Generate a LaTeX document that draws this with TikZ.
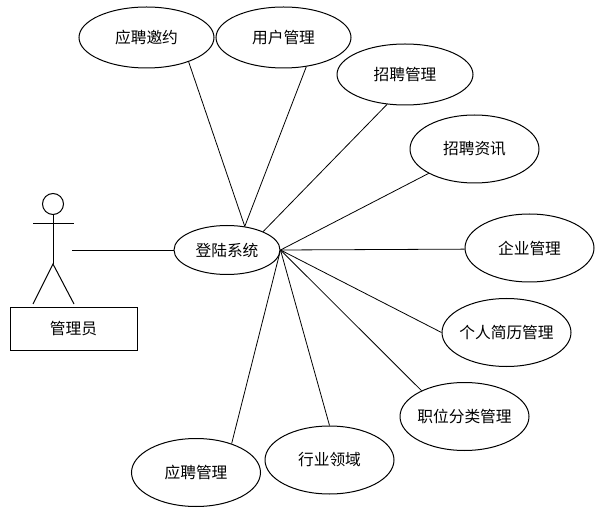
\documentclass[tikz,border=0pt]{standalone}
\usepackage{fontspec}
\setmainfont{Noto Sans CJK SC}
\usetikzlibrary{shapes.geometric}
\tikzset{
usecase/.style={draw,ellipse,line width=0.75pt,fill=white,font=\fontsize{11.8pt}{13pt}\selectfont,inner sep=0pt,minimum width=96.75pt,minimum height=51pt},
longcase/.style={usecase,inner xsep=-3pt},
conn/.style={line width=0.6pt},
figure/.style={line width=0.75pt}}
\begin{document}
\begin{tikzpicture}[x=0.75pt,y=-0.75pt]
\useasboundingbox (0,0) rectangle (614,520);
\fill[white] (0,0) rectangle (614,520);
\node[usecase,minimum width=79.5pt,minimum height=36.75pt] (login) at (227,250) {登陆系统};
\node[usecase,minimum width=101.25pt,minimum height=45.75pt] (invite) at (146.5,37.5) {应聘邀约};
\node[usecase,minimum width=101.25pt,minimum height=45.75pt] (user) at (283.5,37.5) {用户管理};
\node[usecase,minimum width=102pt,minimum height=45.75pt] (recruit) at (405,74.5) {招聘管理};
\node[usecase] (news) at (474.5,149) {招聘资讯};
\node[usecase] (firm) at (529.5,248) {企业管理};
\node[longcase] (resume) at (506.5,332.5) {个人简历管理};
\node[longcase] (category) at (464.5,416.5) {职位分类管理};
\node[usecase] (industry) at (329.5,460) {行业领域};
\node[usecase] (apply) at (196,472.5) {应聘管理};
\node[draw,figure,minimum width=95.25pt,minimum height=31.5pt,inner sep=0pt,font=\fontsize{11.8pt}{13pt}\selectfont] (role) at (73.5,329) {管理员};
\node[draw,circle,figure,minimum size=15.75pt,inner sep=0pt] (head) at (53,204) {};
\coordinate (crotch) at (53,264);
\coordinate (armL) at (33,223.5);
\coordinate (armR) at (74,223.5);
\coordinate (footL) at (33,304);
\coordinate (footR) at (74,304);
\coordinate (hand) at (72,250);
\draw[figure] (head) -- (crotch);
\draw[figure] (armL) -- (armR);
\draw[figure] (footL) -- (crotch) -- (footR);
\draw[conn] (hand) -- (login);
\draw[conn] (invite.-30) -- (login.53.5);
\draw[conn] (user.-52.7) -- (login.53.5);
\draw[conn] (recruit.239.5) -- (login.27);
\draw[conn] (news.208.8) -- (login.east);
\draw[conn] (firm.181) -- (login.east);
\draw[conn] (resume.180) -- (login.east);
\draw[conn] (category.149.6) -- (login.east);
\draw[conn] (industry.90) -- (login.east);
\draw[conn] (apply.39.3) -- (login.east);
\end{tikzpicture}
\end{document}
